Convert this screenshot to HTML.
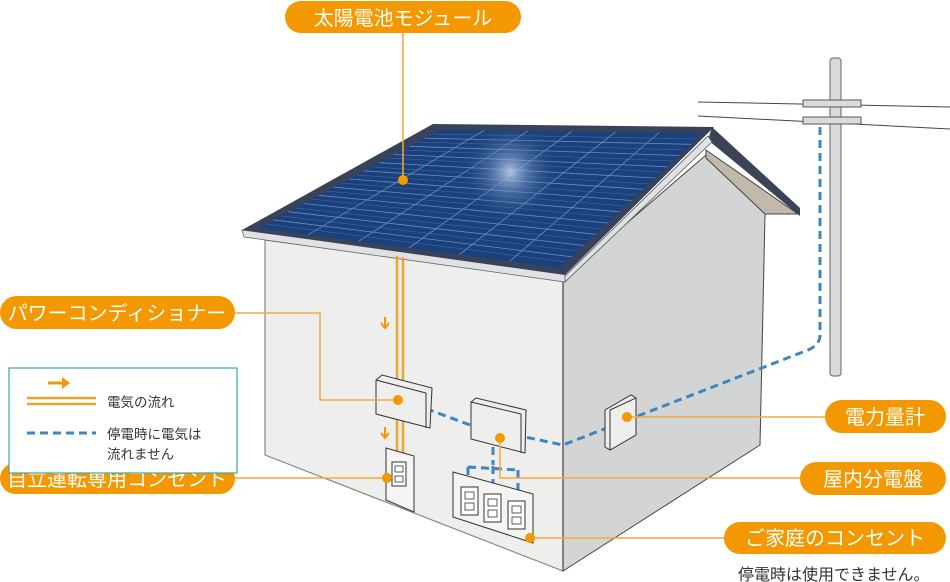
<!DOCTYPE html>
<html><head><meta charset="utf-8"><style>
body{margin:0;background:#fff;}
svg{display:block;font-family:"Liberation Sans","Noto Sans CJK JP",sans-serif;}
</style></head><body>
<svg width="950" height="582" viewBox="0 0 950 582" xmlns="http://www.w3.org/2000/svg">
<defs>
<radialGradient id="glow" cx="510" cy="172" r="50" gradientUnits="userSpaceOnUse">
<stop offset="0" stop-color="#c0cfea" stop-opacity="0.9"/>
<stop offset="0.4" stop-color="#7f9ccc" stop-opacity="0.45"/>
<stop offset="1" stop-color="#1f4a86" stop-opacity="0"/>
</radialGradient>
</defs>
<!-- wires & pole -->
<line x1="698" y1="102" x2="950" y2="107" stroke="#444" stroke-width="1"/>
<line x1="698" y1="116" x2="950" y2="129" stroke="#444" stroke-width="1"/>
<rect x="830" y="58" width="11" height="318" rx="3" fill="#d9dada" stroke="#666" stroke-width="1"/>
<rect x="803" y="100" width="58" height="7" fill="#d9dada" stroke="#555" stroke-width="1"/>
<rect x="803" y="117" width="58" height="7" fill="#d9dada" stroke="#555" stroke-width="1"/>
<!-- right wall -->
<polygon points="563,278 706,155 765,214 760,445 563,571" fill="#d3d5d5" stroke="#444" stroke-width="1"/>
<!-- gable underside -->
<polygon points="706,150 798,214 765,214 706,158" fill="#c2b9ab" stroke="#444" stroke-width="1"/>
<polygon points="712,127 800,208 800,216 708,140" fill="#3b4356"/>
<polygon points="565,276 708,136 712,142 565,282" fill="#dfe1e2" stroke="#555" stroke-width="0.8"/>
<!-- front wall -->
<polygon points="265,240 563,280 563,571 265,455" fill="#eeeeec" stroke="#888" stroke-width="1.2"/>
<line x1="563" y1="280" x2="563" y2="571" stroke="#333" stroke-width="1"/>
<!-- eave strip -->
<polygon points="242,230 565,273 565,282 244,237" fill="#dfe1e2" stroke="#666" stroke-width="0.8"/>
<!-- roof -->
<polygon points="433,124 714,127 565,275 242,230" fill="#38425a"/>
<polygon points="440,130 703,133 560,268 258,228" fill="#1b417c"/>
<g stroke="#5c7fb8" stroke-width="0.5" opacity="0.7">
<line x1="432" y1="134" x2="697" y2="139"/><line x1="417" y1="142" x2="685" y2="150"/>
<line x1="402" y1="150" x2="673" y2="161"/><line x1="387" y1="158" x2="661" y2="172"/>
<line x1="372" y1="167" x2="649" y2="184"/><line x1="357" y1="175" x2="637" y2="195"/>
<line x1="341" y1="183" x2="625" y2="206"/><line x1="326" y1="191" x2="613" y2="217"/>
<line x1="311" y1="199" x2="602" y2="229"/><line x1="296" y1="208" x2="590" y2="240"/>
<line x1="281" y1="216" x2="578" y2="251"/><line x1="266" y1="224" x2="566" y2="262"/>
</g>
<g stroke="#7a98c8" stroke-width="0.8" opacity="0.85">
<line x1="424.8" y1="138.2" x2="691.1" y2="144.3"/><line x1="409.7" y1="146.3" x2="679.2" y2="155.5"/>
<line x1="394.5" y1="154.5" x2="667.3" y2="166.8"/><line x1="379.3" y1="162.7" x2="655.3" y2="178"/>
<line x1="364.2" y1="170.8" x2="643.4" y2="189.3"/><line x1="349" y1="179" x2="631.5" y2="200.5"/>
<line x1="333.8" y1="187.2" x2="619.6" y2="211.8"/><line x1="318.7" y1="195.3" x2="607.7" y2="223"/>
<line x1="303.5" y1="203.5" x2="595.8" y2="234.3"/><line x1="288.3" y1="211.7" x2="583.8" y2="245.5"/>
<line x1="273.2" y1="219.8" x2="571.9" y2="256.8"/>
<line x1="483.8" y1="130.5" x2="308.3" y2="234.7"/><line x1="527.7" y1="131" x2="358.7" y2="241.3"/>
<line x1="571.5" y1="131.5" x2="409" y2="248"/><line x1="615.3" y1="132" x2="459.3" y2="254.7"/>
<line x1="659.2" y1="132.5" x2="509.7" y2="261.3"/>
</g>
<polygon points="440,130 703,133 560,268 258,228" fill="url(#glow)"/>
<!-- orange power lines -->
<line x1="397" y1="256" x2="397" y2="455" stroke="#e8a530" stroke-width="2.5"/>
<line x1="403" y1="257" x2="403" y2="455" stroke="#e8a530" stroke-width="2.5"/>
<path d="M385 317v10M381 323l4 5 4-5" stroke="#f39800" stroke-width="2" fill="none"/>
<path d="M385 427v10M381 433l4 5 4-5" stroke="#f39800" stroke-width="2" fill="none"/>
<!-- blue dashed -->
<g stroke="#3f86c0" stroke-width="3" stroke-dasharray="8,5" fill="none">
<path d="M820 127 V335 Q820 345 808 350 L563 445 L525 437"/>
<path d="M470 425 L427 409"/>
<path d="M493 447 V465 M468 467 L518 470 M468 467 V487 M493 466 V487 M518 470 V492"/>
</g>
<!-- PCS box -->
<polygon points="376,380 382,375 432,388 430,428 376,414" fill="#eeeeec" stroke="#333" stroke-width="1"/>
<line x1="376" y1="380" x2="426" y2="393" stroke="#333"/><line x1="426" y1="393" x2="426" y2="428" stroke="#333"/>
<!-- self outlet -->
<polygon points="386,448 414,456 414,512 386,500" fill="#f4f4f2" stroke="#333"/>
<rect x="392" y="462" width="14" height="24" fill="#fff" stroke="#333"/>
<rect x="395" y="466" width="8" height="6" fill="none" stroke="#333" stroke-width="0.8"/>
<rect x="395" y="476" width="8" height="6" fill="none" stroke="#333" stroke-width="0.8"/>
<!-- distribution board -->
<polygon points="471,402 476,398 526,410 525,453 471,439" fill="#eeeeec" stroke="#333"/>
<line x1="471" y1="402" x2="521" y2="414" stroke="#333"/><line x1="521" y1="414" x2="521" y2="453" stroke="#333"/>
<!-- meter -->
<polygon points="605,410 631,395 636,398 636,435 610,450 605,447" fill="#eeeeec" stroke="#333"/>
<line x1="610" y1="410" x2="610" y2="450" stroke="#333"/><line x1="610" y1="410" x2="636" y2="398" stroke="#333"/>
<!-- home outlets -->
<polygon points="453,472 533,494 533,543 453,517" fill="#f4f4f2" stroke="#333"/>
<g fill="none" stroke="#333" stroke-width="0.8">
<rect x="461" y="487" width="17" height="28" fill="#fff" stroke-width="1"/>
<rect x="484" y="494" width="17" height="28" fill="#fff" stroke-width="1"/>
<rect x="508" y="501" width="17" height="28" fill="#fff" stroke-width="1"/>
<rect x="465" y="492" width="9" height="7"/><rect x="465" y="503" width="9" height="7"/>
<rect x="488" y="499" width="9" height="7"/><rect x="488" y="510" width="9" height="7"/>
<rect x="512" y="506" width="9" height="7"/><rect x="512" y="517" width="9" height="7"/>
</g>
<!-- leader lines -->
<g stroke="#f3a93a" stroke-width="1.5" fill="none">
<line x1="403" y1="30" x2="403" y2="180"/>
<polyline points="230,313 320,313 320,400 398,400"/>
<line x1="230" y1="478" x2="387" y2="478"/>
<line x1="627" y1="417" x2="830" y2="417"/>
<polyline points="500,438 500,478 805,478"/>
<line x1="530" y1="538" x2="730" y2="538"/>
</g>
<g fill="#f39800">
<circle cx="403" cy="180" r="5"/><circle cx="398" cy="400" r="5"/><circle cx="387" cy="478" r="5"/>
<circle cx="627" cy="417" r="5"/><circle cx="500" cy="438" r="5"/><circle cx="530" cy="538" r="5"/>
</g>
<!-- labels -->
<g fill="#f39800">
<rect x="285" y="1" width="236" height="32" rx="16"/>
<rect x="0" y="296" width="235" height="33" rx="16.5"/>
<rect x="0" y="463" width="235" height="31" rx="15.5"/>
<rect x="825" y="400" width="121" height="33" rx="16.5"/>
<rect x="800" y="462" width="146" height="33" rx="16.5"/>
<rect x="724" y="522" width="222" height="32" rx="16"/>
</g>
<g fill="#fff" font-size="20" text-anchor="middle">
<text x="403" y="25">太陽電池モジュール</text>
<text x="117" y="320">パワーコンディショナー</text>
<text x="117" y="486">自立運転専用コンセント</text>
<text x="885" y="424">電力量計</text>
<text x="873" y="486">屋内分電盤</text>
<text x="835" y="545">ご家庭のコンセント</text>
</g>
<text x="738" y="580" font-size="16" fill="#333">停電時は使用できません。</text>
<!-- legend -->
<rect x="9" y="368" width="228" height="105" fill="#fff" stroke="#3aa8a0" stroke-width="1.2"/>
<path d="M48 383h16" stroke="#f39800" stroke-width="3"/><path d="M62 377l8 6-8 6z" fill="#f39800"/>
<line x1="27" y1="398" x2="96" y2="398" stroke="#e8a530" stroke-width="2.5"/>
<line x1="27" y1="404" x2="96" y2="404" stroke="#e8a530" stroke-width="2.5"/>
<line x1="27" y1="433" x2="96" y2="433" stroke="#3f86c0" stroke-width="3" stroke-dasharray="8,5"/>
<g font-size="13.5" fill="#333">
<text x="107" y="407">電気の流れ</text>
<text x="107" y="439">停電時に電気は</text>
<text x="107" y="459">流れません</text>
</g>
</svg>
</body></html>
